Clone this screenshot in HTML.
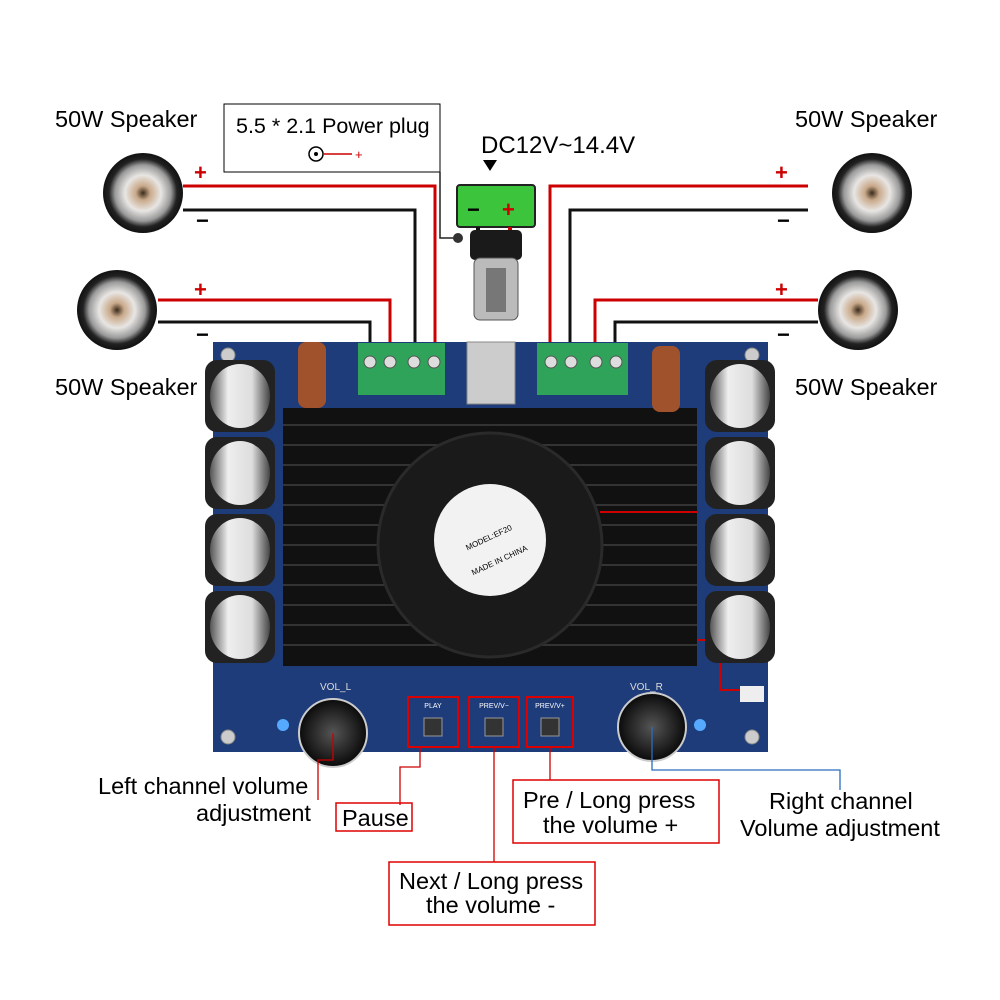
<!DOCTYPE html>
<html><head><meta charset="utf-8"><style>
html,body{margin:0;padding:0;background:#fff;}
svg{display:block;}
text{font-family:"Liberation Sans",sans-serif;}
</style></head><body>
<svg width="1000" height="1000" viewBox="0 0 1000 1000" xmlns="http://www.w3.org/2000/svg">
<defs>
<radialGradient id="spk" cx="50%" cy="50%" r="50%">
<stop offset="0" stop-color="#3a2a1a"/><stop offset="0.18" stop-color="#c9a98a"/><stop offset="0.45" stop-color="#e8e6e4"/><stop offset="0.7" stop-color="#9a9a9a"/><stop offset="0.85" stop-color="#222"/><stop offset="1" stop-color="#111"/>
</radialGradient>
<linearGradient id="cap" x1="0" x2="1"><stop offset="0" stop-color="#555"/><stop offset="0.3" stop-color="#eee"/><stop offset="0.7" stop-color="#ddd"/><stop offset="1" stop-color="#444"/></linearGradient>
<radialGradient id="knob"><stop offset="0" stop-color="#555"/><stop offset="1" stop-color="#0a0a0a"/></radialGradient>
</defs>

<g>
<circle cx="143" cy="193" r="40" fill="url(#spk)"/>
<circle cx="117" cy="310" r="40" fill="url(#spk)"/>
<circle cx="872" cy="193" r="40" fill="url(#spk)"/>
<circle cx="858" cy="310" r="40" fill="url(#spk)"/>
</g>
<g font-size="23.5">
<text x="55" y="127">50W Speaker</text>
<text x="55" y="395">50W Speaker</text>
<text x="795" y="127">50W Speaker</text>
<text x="795" y="395">50W Speaker</text>
</g>

<rect x="224" y="104" width="216" height="68" fill="#fff" stroke="#000" stroke-width="1"/>
<text x="236" y="133" font-size="21.5">5.5 * 2.1 Power plug</text>
<circle cx="316" cy="154" r="7" fill="none" stroke="#000" stroke-width="1.5"/>
<circle cx="316" cy="154" r="2" fill="#000"/>
<line x1="323" y1="154" x2="352" y2="154" stroke="#c00" stroke-width="1.5"/>
<text x="355" y="159" font-size="13" fill="#c00">+</text>
<text x="481" y="153" font-size="24">DC12V~14.4V</text>
<polygon points="483,160 497,160 490,171" fill="#000"/>

<g fill="none" stroke-width="3">
<polyline points="183,186 435,186 435,352" stroke="#c00"/>
<polyline points="183,210 415,210 415,352" stroke="#111"/>
<polyline points="158,300 390,300 390,352" stroke="#c00"/>
<polyline points="158,322 370,322 370,352" stroke="#111"/>
<polyline points="808,186 550,186 550,352" stroke="#c00"/>
<polyline points="808,210 570,210 570,352" stroke="#111"/>
<polyline points="818,300 595,300 595,352" stroke="#c00"/>
<polyline points="818,322 615,322 615,352" stroke="#111"/>
<polyline points="440,172 440,238 458,238" stroke="#222" stroke-width="1.5"/>
</g>
<g font-size="22" font-weight="bold">
<text x="194" y="180" fill="#c00">+</text><text x="196" y="228" fill="#000">−</text>
<text x="194" y="297" fill="#c00">+</text><text x="196" y="342" fill="#000">−</text>
<text x="775" y="180" fill="#c00">+</text><text x="777" y="228" fill="#000">−</text>
<text x="775" y="297" fill="#c00">+</text><text x="777" y="342" fill="#000">−</text>
</g>

<rect x="457" y="185" width="78" height="42" rx="3" fill="#3cc43c" stroke="#222" stroke-width="2"/>
<text x="467" y="217" font-size="22" font-weight="bold" fill="#000">−</text>
<text x="502" y="217" font-size="22" font-weight="bold" fill="#c00">+</text>
<line x1="478" y1="227" x2="478" y2="250" stroke="#111" stroke-width="4"/>
<line x1="510" y1="227" x2="510" y2="250" stroke="#c00" stroke-width="4"/>
<circle cx="458" cy="238" r="5" fill="#333"/>
<rect x="470" y="230" width="52" height="30" rx="5" fill="#1a1a1a"/>
<rect x="474" y="258" width="44" height="62" rx="6" fill="#bbb" stroke="#555"/>
<rect x="486" y="268" width="20" height="44" fill="#777"/>

<rect x="213" y="342" width="555" height="410" fill="#1e3c7a"/>
<circle cx="228" cy="355" r="7" fill="#ccc" stroke="#888"/>
<circle cx="752" cy="355" r="7" fill="#ccc" stroke="#888"/>
<circle cx="228" cy="737" r="7" fill="#ccc" stroke="#888"/>
<circle cx="752" cy="737" r="7" fill="#ccc" stroke="#888"/>

<rect x="283" y="408" width="414" height="258" fill="#111"/>
<g stroke="#333" stroke-width="2">
<line x1="283" y1="425" x2="697" y2="425"/><line x1="283" y1="445" x2="697" y2="445"/>
<line x1="283" y1="465" x2="697" y2="465"/><line x1="283" y1="485" x2="697" y2="485"/>
<line x1="283" y1="505" x2="697" y2="505"/><line x1="283" y1="525" x2="697" y2="525"/>
<line x1="283" y1="545" x2="697" y2="545"/><line x1="283" y1="565" x2="697" y2="565"/>
<line x1="283" y1="585" x2="697" y2="585"/><line x1="283" y1="605" x2="697" y2="605"/>
<line x1="283" y1="625" x2="697" y2="625"/><line x1="283" y1="645" x2="697" y2="645"/>
</g>
<circle cx="490" cy="545" r="112" fill="#1a1a1a" stroke="#2a2a2a" stroke-width="3"/>
<circle cx="490" cy="540" r="56" fill="#f2f2f2"/>
<text x="490" y="540" font-size="8" text-anchor="middle" transform="rotate(-25 490 540)">MODEL:EF20</text>
<text x="490" y="565" font-size="8" text-anchor="middle" transform="rotate(-25 490 540)">MADE IN CHINA</text>
<line x1="600" y1="512" x2="697" y2="512" stroke="#c00" stroke-width="2"/>
<polyline points="697,640 720,640 720,690 745,690" fill="none" stroke="#c00" stroke-width="2"/>
<rect x="740" y="686" width="24" height="16" fill="#eee"/>

<rect x="298" y="342" width="28" height="66" rx="8" fill="#a0522d"/>
<rect x="652" y="346" width="28" height="66" rx="8" fill="#a0522d"/>
<rect x="467" y="342" width="48" height="62" fill="#ccc" stroke="#888"/>

<rect x="358" y="343" width="87" height="52" fill="#2fa35a"/>
<rect x="537" y="343" width="91" height="52" fill="#2fa35a"/>
<g fill="#ddd" stroke="#555">
<circle cx="370" cy="362" r="6"/><circle cx="390" cy="362" r="6"/><circle cx="414" cy="362" r="6"/><circle cx="434" cy="362" r="6"/>
<circle cx="551" cy="362" r="6"/><circle cx="571" cy="362" r="6"/><circle cx="596" cy="362" r="6"/><circle cx="616" cy="362" r="6"/>
</g>

<g>
<rect x="205" y="360" width="70" height="72" rx="12" fill="#222"/><ellipse cx="240" cy="396" rx="30" ry="32" fill="url(#cap)"/>
<rect x="205" y="437" width="70" height="72" rx="12" fill="#222"/><ellipse cx="240" cy="473" rx="30" ry="32" fill="url(#cap)"/>
<rect x="205" y="514" width="70" height="72" rx="12" fill="#222"/><ellipse cx="240" cy="550" rx="30" ry="32" fill="url(#cap)"/>
<rect x="205" y="591" width="70" height="72" rx="12" fill="#222"/><ellipse cx="240" cy="627" rx="30" ry="32" fill="url(#cap)"/>
<rect x="705" y="360" width="70" height="72" rx="12" fill="#222"/><ellipse cx="740" cy="396" rx="30" ry="32" fill="url(#cap)"/>
<rect x="705" y="437" width="70" height="72" rx="12" fill="#222"/><ellipse cx="740" cy="473" rx="30" ry="32" fill="url(#cap)"/>
<rect x="705" y="514" width="70" height="72" rx="12" fill="#222"/><ellipse cx="740" cy="550" rx="30" ry="32" fill="url(#cap)"/>
<rect x="705" y="591" width="70" height="72" rx="12" fill="#222"/><ellipse cx="740" cy="627" rx="30" ry="32" fill="url(#cap)"/>
</g>

<text x="320" y="690" font-size="10" fill="#ddd">VOL_L</text>
<text x="630" y="690" font-size="10" fill="#ddd">VOL_R</text>
<circle cx="283" cy="725" r="6" fill="#5af"/>
<circle cx="700" cy="725" r="6" fill="#5af"/>
<circle cx="333" cy="733" r="34" fill="url(#knob)" stroke="#ccc" stroke-width="2"/>
<circle cx="652" cy="727" r="34" fill="url(#knob)" stroke="#ccc" stroke-width="2"/>
<g fill="none" stroke="#d00" stroke-width="2">
<rect x="408" y="697" width="50" height="50"/>
<rect x="469" y="697" width="50" height="50"/>
<rect x="527" y="697" width="46" height="50"/>
</g>
<g fill="#fff" font-size="7" text-anchor="middle">
<text x="433" y="708">PLAY</text><text x="494" y="708">PREV/V−</text><text x="550" y="708">PREV/V+</text>
</g>
<g fill="#333" stroke="#999">
<rect x="424" y="718" width="18" height="18"/><rect x="485" y="718" width="18" height="18"/><rect x="541" y="718" width="18" height="18"/>
</g>

<g fill="none" stroke-width="1.3">
<polyline points="318,800 318,760 333,760 333,733" stroke="#c00"/>
<polyline points="400,805 400,767 420,767 420,747" stroke="#c00"/>
<polyline points="494,862 494,747" stroke="#c00"/>
<polyline points="550,780 550,747" stroke="#c00"/>
<polyline points="652,727 652,770 840,770 840,790" stroke="#2a6cc0"/>
</g>
<g font-size="23.5">
<text x="98" y="794">Left channel volume</text>
<text x="196" y="821">adjustment</text>
<text x="342" y="826">Pause</text>
<text x="523" y="808">Pre / Long press</text>
<text x="543" y="833">the volume +</text>
<text x="399" y="889">Next / Long press</text>
<text x="426" y="913">the volume -</text>
<text x="769" y="809">Right channel</text>
<text x="740" y="836">Volume adjustment</text>
</g>
<rect x="336" y="803" width="76" height="28" fill="none" stroke="#d00" stroke-width="1.5"/>
<rect x="513" y="780" width="206" height="63" fill="none" stroke="#d00" stroke-width="1.5"/>
<rect x="389" y="862" width="206" height="63" fill="none" stroke="#d00" stroke-width="1.5"/>
</svg>
</body></html>
